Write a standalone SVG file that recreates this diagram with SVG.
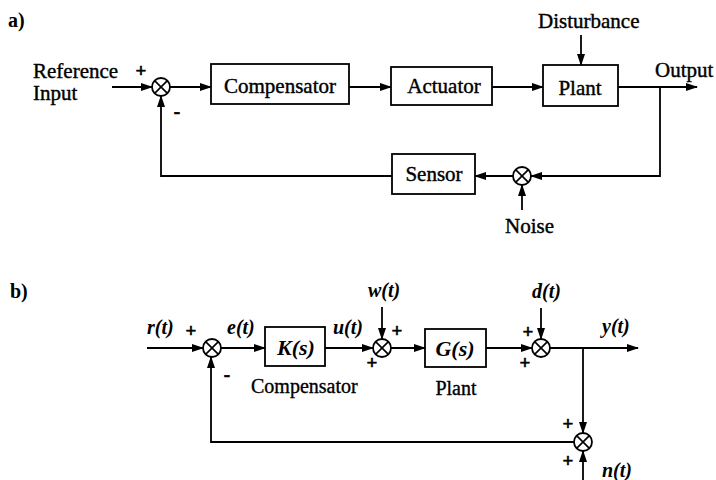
<svg xmlns="http://www.w3.org/2000/svg" width="716" height="480" viewBox="0 0 716 480">
<style>
.bg{fill:#fff}
.box{fill:#fff;stroke:#000;stroke-width:1.8}
.ln{fill:none;stroke:#000;stroke-width:1.8}
.sum circle{fill:#fff;stroke:#000;stroke-width:1.8}
.sum path{stroke:#000;stroke-width:1.6}
.t{font-family:"Liberation Serif","Times New Roman",serif;font-size:21px;fill:#000;stroke:#000;stroke-width:0.4}
.tb{font-family:"Liberation Serif","Times New Roman",serif;font-size:20px;fill:#000;stroke:#000;stroke-width:0.35}
.ti{font-family:"Liberation Serif","Times New Roman",serif;font-size:20px;font-style:italic;font-weight:bold;fill:#000}
.tk{font-family:"Liberation Serif","Times New Roman",serif;font-size:22px;font-style:italic;font-weight:bold;fill:#000}
.hd{font-family:"Liberation Serif","Times New Roman",serif;font-size:20px;font-weight:bold;fill:#000}
.sg{font-family:"Liberation Serif","Times New Roman",serif;font-size:19px;font-weight:bold;fill:#000;stroke:#000;stroke-width:0.6;text-anchor:middle;dominant-baseline:central}
.c{text-anchor:middle}
</style>
<defs>
<marker id="ah" markerUnits="userSpaceOnUse" markerWidth="12" markerHeight="8" refX="11" refY="4" orient="auto">
<path d="M0,0 L12,4 L0,8 z" fill="#000"/>
</marker>
</defs>
<rect class="bg" x="0" y="0" width="716" height="480"/>

<text class="hd" x="8" y="27">a)</text>
<text class="hd" x="10" y="298">b)</text>

<g id="connectors">
<line class="ln" x1="112" y1="87" x2="152" y2="87" marker-end="url(#ah)"/>
<line class="ln" x1="170" y1="87" x2="211" y2="87" marker-end="url(#ah)"/>
<line class="ln" x1="349" y1="87" x2="391" y2="87" marker-end="url(#ah)"/>
<line class="ln" x1="492" y1="87" x2="543" y2="87" marker-end="url(#ah)"/>
<line class="ln" x1="618" y1="87" x2="697" y2="87" marker-end="url(#ah)"/>
<line class="ln" x1="581" y1="35" x2="581" y2="65" marker-end="url(#ah)"/>
<polyline class="ln" points="660,87 660,176 531,176" marker-end="url(#ah)"/>
<line class="ln" x1="522" y1="210" x2="522" y2="185" marker-end="url(#ah)"/>
<line class="ln" x1="513" y1="176" x2="475" y2="176" marker-end="url(#ah)"/>
<polyline class="ln" points="392,176 161,176 161,96" marker-end="url(#ah)"/>
<line class="ln" x1="147" y1="348" x2="203" y2="348" marker-end="url(#ah)"/>
<line class="ln" x1="221" y1="348" x2="265" y2="348" marker-end="url(#ah)"/>
<line class="ln" x1="325" y1="348" x2="373" y2="348" marker-end="url(#ah)"/>
<line class="ln" x1="382" y1="307" x2="382" y2="339" marker-end="url(#ah)"/>
<line class="ln" x1="391" y1="348" x2="425" y2="348" marker-end="url(#ah)"/>
<line class="ln" x1="486" y1="348" x2="532" y2="348" marker-end="url(#ah)"/>
<line class="ln" x1="541" y1="308" x2="541" y2="339" marker-end="url(#ah)"/>
<line class="ln" x1="550" y1="348" x2="638" y2="348" marker-end="url(#ah)"/>
<line class="ln" x1="583" y1="348" x2="583" y2="433" marker-end="url(#ah)"/>
<line class="ln" x1="583" y1="480" x2="583" y2="451" marker-end="url(#ah)"/>
<polyline class="ln" points="574,442 211,442 211,357" marker-end="url(#ah)"/>
</g>

<g id="refInput">
<text class="t" x="33" y="78">Reference</text>
<text class="t" x="33" y="100">Input</text>
</g>
<g id="sumA" class="sum">
<circle cx="161" cy="87" r="9"/>
<path d="M154.6,80.6 L167.4,93.4 M167.4,80.6 L154.6,93.4"/>
<text class="sg" x="141" y="70">+</text>
<text class="sg" x="177" y="111">-</text>
</g>
<g id="compensator">
<rect class="box" x="211" y="64" width="138" height="40"/>
<text class="t c" x="280" y="93">Compensator</text>
</g>
<g id="actuator">
<rect class="box" x="391" y="67" width="101" height="38"/>
<text class="t c" x="444" y="93">Actuator</text>
</g>
<g id="plantA">
<rect class="box" x="543" y="65" width="75" height="41"/>
<text class="t c" x="580" y="95">Plant</text>
</g>
<g id="disturbance">
<text class="t" x="538" y="28">Disturbance</text>
</g>
<g id="output">
<text class="t" x="655" y="77">Output</text>
</g>
<g id="sumNoise" class="sum">
<circle cx="522" cy="176" r="9"/>
<path d="M515.6,169.6 L528.4,182.4 M528.4,169.6 L515.6,182.4"/>
</g>
<g id="noise">
<text class="t" x="505" y="233">Noise</text>
</g>
<g id="sensor">
<rect class="box" x="392" y="154" width="83" height="40"/>
<text class="t c" x="434" y="181">Sensor</text>
</g>

<g id="rt"><text class="ti" x="147" y="334">r(t)</text></g>
<g id="sumB1" class="sum">
<circle cx="212" cy="348" r="9"/>
<path d="M205.6,341.6 L218.4,354.4 M218.4,341.6 L205.6,354.4"/>
<text class="sg" x="191" y="330">+</text>
<text class="sg" x="227" y="374">-</text>
</g>
<g id="et"><text class="ti" x="227" y="334">e(t)</text></g>
<g id="Ks">
<rect class="box" x="265" y="327" width="60" height="39"/>
<text class="tk c" x="296" y="355">K(s)</text>
<text class="tb" x="251" y="393">Compensator</text>
</g>
<g id="ut"><text class="ti" x="333" y="334">u(t)</text></g>
<g id="sumB2" class="sum">
<circle cx="382" cy="348" r="9"/>
<path d="M375.6,341.6 L388.4,354.4 M388.4,341.6 L375.6,354.4"/>
<text class="sg" x="397" y="330">+</text>
<text class="sg" x="372" y="362">+</text>
</g>
<g id="wt"><text class="ti" x="368" y="297">w(t)</text></g>
<g id="Gs">
<rect class="box" x="425" y="329" width="61" height="38"/>
<text class="tk c" x="455" y="356">G(s)</text>
<text class="tb c" x="456" y="395">Plant</text>
</g>
<g id="sumB3" class="sum">
<circle cx="541" cy="348" r="9"/>
<path d="M534.6,341.6 L547.4,354.4 M547.4,341.6 L534.6,354.4"/>
<text class="sg" x="528" y="331">+</text>
<text class="sg" x="525" y="362">+</text>
</g>
<g id="dt"><text class="ti" x="532" y="298">d(t)</text></g>
<g id="yt"><text class="ti" x="602" y="333">y(t)</text></g>
<g id="sumB4" class="sum">
<circle cx="583" cy="442" r="9"/>
<path d="M576.6,435.6 L589.4,448.4 M589.4,435.6 L576.6,448.4"/>
<text class="sg" x="568" y="423">+</text>
<text class="sg" x="568" y="460">+</text>
</g>
<g id="nt"><text class="ti" x="602" y="477">n(t)</text></g>
</svg>
